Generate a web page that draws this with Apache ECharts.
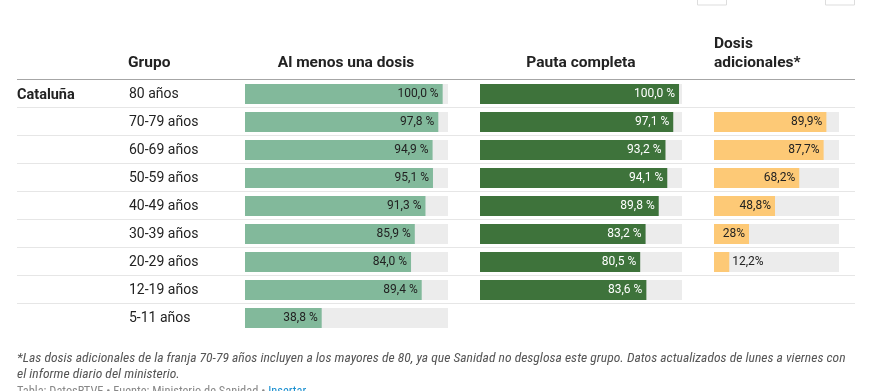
<!DOCTYPE html>
<html><head><meta charset="utf-8">
<script src="https://cdn.jsdelivr.net/npm/echarts@6/dist/echarts.min.js"></script>
<style>html,body{margin:0;padding:0;background:#fff}#c{width:880px;height:391px}</style>
</head><body><div id="c"></div>
<script>
const groups = ['80 años','70-79 años','60-69 años','50-59 años','40-49 años','30-39 años','20-29 años','12-19 años','5-11 años'];
const region = 'Cataluña';
const alMenosUna = [100.0, 97.8, 94.9, 95.1, 91.3, 85.9, 84.0, 89.4, 38.8];
const pautaCompleta = [100.0, 97.1, 93.2, 94.1, 89.8, 83.2, 80.5, 83.6, null];
const dosisAdicionales = [null, 89.9, 87.7, 68.2, 48.8, 28, 12.2, null, null];
const headers = ['Grupo', 'Al menos una dosis', 'Pauta completa', 'Dosis', 'adicionales*'];
const footnote = ['*Las dosis adicionales de la franja 70-79 años incluyen a los mayores de 80, ya que Sanidad no desglosa este grupo. Datos actualizados de lunes a viernes con', 'el informe diario del ministerio.'];
const source = 'Tabla: DatosRTVE • Fuente: Ministerio de Sanidad • ';
const sourceLink = 'Insertar';

const TOP = 79, ROW = 28, N = groups.length;
const FONT = 'Roboto, "Noto Sans", sans-serif';
const COND = '"Roboto Condensed", "Liberation Sans Narrow", Roboto, sans-serif';
const cols = [
  {left: 245, width: 203, max: 102.7, data: alMenosUna, color: '#82b99b', lab: '#222', fmt: v => v.toFixed(1).replace('.', ',') + ' %'},
  {left: 480, width: 202, max: 101.5, data: pautaCompleta, color: '#3e733b', lab: '#fff', fmt: v => v.toFixed(1).replace('.', ',') + ' %'},
  {left: 714, width: 125, max: 100, data: dosisAdicionales, color: '#fdc976', lab: '#222', fmt: v => String(v).replace('.', ',') + '%'}
];

const grid = [], xAxis = [], yAxis = [], series = [];
cols.forEach((c, i) => {
  grid.push({left: c.left, width: c.width, top: TOP + 1, height: ROW * N, containLabel: false});
  xAxis.push({gridIndex: i, type: 'value', min: 0, max: c.max, show: false});
  yAxis.push({gridIndex: i, type: 'category', data: groups, inverse: true,
    axisLine: {show: false}, axisTick: {show: false}, splitLine: {show: false},
    axisLabel: i === 0 ? {show: true, align: 'left', margin: 116, fontSize: 14, color: '#222', fontFamily: FONT} : {show: false}});
  series.push({type: 'bar', xAxisIndex: i, yAxisIndex: i, barWidth: 20, silent: true,
    itemStyle: {color: '#ececec'}, data: c.data.map(v => v == null ? '-' : c.max), z: 1, animation: false});
  series.push({type: 'bar', xAxisIndex: i, yAxisIndex: i, barWidth: 20, barGap: '-100%',
    itemStyle: {color: c.color}, z: 2, animation: false,
    data: c.data.map(v => {
      if (v == null) return '-';
      const small = i === 2 && v < 20;
      return {value: v, label: {position: small ? 'right' : 'insideRight', distance: small ? 3 : 4}};
    }),
    label: {show: true, position: 'insideRight', distance: 4, color: c.lab, fontSize: 12, fontFamily: FONT,
      formatter: p => c.fmt(p.value)}});
});

const graphic = [];
graphic.push({type: 'line', shape: {x1: 17, y1: TOP + 0.5, x2: 855, y2: TOP + 0.5}, style: {stroke: '#a6a6a6', lineWidth: 1}});
for (let k = 1; k < N; k++) {
  graphic.push({type: 'line', shape: {x1: 17, y1: TOP + ROW * k + 0.5, x2: 855, y2: TOP + ROW * k + 0.5}, style: {stroke: '#e6e6e6', lineWidth: 1}});
}
const hStyle = {fill: '#222', fontSize: 15.5, fontWeight: 'bold', fontFamily: FONT, textVerticalAlign: 'middle'};
graphic.push({type: 'text', x: 128, y: 63.5, style: Object.assign({text: headers[0]}, hStyle)});
graphic.push({type: 'text', x: 346, y: 63.5, style: Object.assign({text: headers[1], textAlign: 'center'}, hStyle)});
graphic.push({type: 'text', x: 581, y: 63.5, style: Object.assign({text: headers[2], textAlign: 'center'}, hStyle)});
graphic.push({type: 'text', x: 714, y: 44.5, style: Object.assign({text: headers[3]}, hStyle)});
graphic.push({type: 'text', x: 714, y: 63.5, style: Object.assign({text: headers[4]}, hStyle)});
graphic.push({type: 'text', x: 17, y: 95, style: Object.assign({text: region}, hStyle, {fontSize: 14.5})});
graphic.push({type: 'text', x: 17, y: 358.5, style: {text: footnote[0], fill: '#555', fontSize: 13.6, fontStyle: 'italic', fontFamily: COND, textVerticalAlign: 'middle'}});
graphic.push({type: 'text', x: 17, y: 374.5, style: {text: footnote[1], fill: '#555', fontSize: 13.6, fontStyle: 'italic', fontFamily: COND, textVerticalAlign: 'middle'}});
graphic.push({type: 'text', x: 17, y: 392, style: {text: '{a|' + source + '}{b|' + sourceLink + '}', fontSize: 12.4, fontFamily: COND, textVerticalAlign: 'middle',
  rich: {a: {fill: '#888', color: '#888', fontSize: 12.4, fontFamily: COND}, b: {color: '#1a8fd0', fill: '#1a8fd0', fontSize: 12.4, fontFamily: COND}}}});
graphic.push({type: 'rect', shape: {x: 697.5, y: -5, width: 29, height: 10}, style: {fill: '#fff', stroke: '#ddd'}});
graphic.push({type: 'rect', shape: {x: 825.5, y: -5, width: 29, height: 10}, style: {fill: '#fff', stroke: '#ddd'}});

const chart = echarts.init(document.getElementById('c'));
chart.setOption({animation: false, grid, xAxis, yAxis, series, graphic});
</script></body></html>
